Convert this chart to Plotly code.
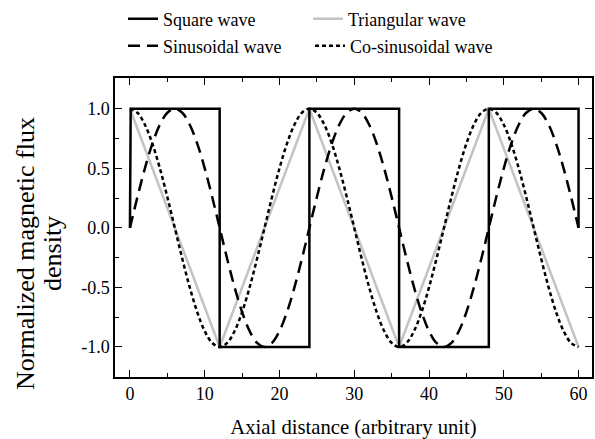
import plotly.graph_objects as go

# ---- data ----
x_unit = list(range(0, 61))

sinusoidal = [
    0, .259, .5, .707, .866, .966, 1, .966, .866, .707, .5, .259,
    0, -.259, -.5, -.707, -.866, -.966, -1, -.966, -.866, -.707, -.5, -.259,
    0, .259, .5, .707, .866, .966, 1, .966, .866, .707, .5, .259,
    0, -.259, -.5, -.707, -.866, -.966, -1, -.966, -.866, -.707, -.5, -.259,
    0, .259, .5, .707, .866, .966, 1, .966, .866, .707, .5, .259, 0,
]
cosinusoidal = [
    1, .966, .866, .707, .5, .259, 0, -.259, -.5, -.707, -.866, -.966,
    -1, -.966, -.866, -.707, -.5, -.259, 0, .259, .5, .707, .866, .966,
    1, .966, .866, .707, .5, .259, 0, -.259, -.5, -.707, -.866, -.966,
    -1, -.966, -.866, -.707, -.5, -.259, 0, .259, .5, .707, .866, .966,
    1, .966, .866, .707, .5, .259, 0, -.259, -.5, -.707, -.866, -.966, -1,
]
tri_x = [0, 12, 24, 36, 48, 60]
tri_y = [1, -1, 1, -1, 1, -1]
sq_x = [0, 0.1, 12, 12, 24, 24, 36, 36, 48, 48, 60, 60]
sq_y = [0, 1, 1, -1, -1, 1, 1, -1, -1, 1, 1, 0]

x_ticks = [0, 10, 20, 30, 40, 50, 60]
y_ticks = [-1.0, -0.5, 0.0, 0.5, 1.0]
y_tick_labels = ["-1.0", "-0.5", "0.0", "0.5", "1.0"]
y_title_lines = ["Normalized magnetic flux", "density"]

FONT = "Liberation Serif, Times New Roman, serif"

fig = go.Figure()
fig.add_trace(go.Scatter(x=tri_x, y=tri_y, mode="lines", name="Triangular wave",
                         line=dict(color="#c3c3c3", width=2.5), legend="legend2"))
fig.add_trace(go.Scatter(x=x_unit, y=sinusoidal, mode="lines", name="Sinusoidal wave",
                         line=dict(color="black", width=2.5, dash="12px,7px", shape="spline"),
                         legend="legend3"))
fig.add_trace(go.Scatter(x=x_unit, y=cosinusoidal, mode="lines", name="Co-sinusoidal wave",
                         line=dict(color="black", width=2.5, dash="4px,3px", shape="spline"),
                         legend="legend4"))
fig.add_trace(go.Scatter(x=sq_x, y=sq_y, mode="lines", name="Square wave",
                         line=dict(color="black", width=2.5), legend="legend"))

def leg(x_px, y_px):
    return dict(orientation="v", xref="container", yref="container", xanchor="left",
                yanchor="middle", x=x_px / 595, y=1 - y_px / 439,
                font=dict(family=FONT, size=18, color="black"),
                bgcolor="rgba(0,0,0,0)", borderwidth=0)

PLOT_L, PLOT_W, PLOT_B, PLOT_H = 115, 477, 377, 299

annots = []
for line_text, cx in zip(y_title_lines, [25, 52]):
    annots.append(dict(text=line_text, textangle=-90,
                       xref="paper", yref="paper", x=(cx - PLOT_L) / PLOT_W,
                       y=(PLOT_B - 254) / PLOT_H, xanchor="center", yanchor="middle",
                       showarrow=False, font=dict(size=26, family=FONT, color="black")))

fig.update_layout(
    width=595, height=439,
    margin=dict(l=115, r=3, t=78, b=62, autoexpand=False),
    paper_bgcolor="white", plot_bgcolor="white",
    font=dict(family=FONT, color="black"),
    showlegend=True,
    legend=leg(123, 19),
    legend2=leg(308, 19),
    legend3=leg(123, 46),
    legend4=leg(310, 46),
    xaxis=dict(range=[-2, 61.8], tickvals=x_ticks, ticks="inside", ticklen=7, tickwidth=1,
               tickcolor="black", showline=True, linecolor="black", linewidth=1.5, mirror="ticks",
               showgrid=False, zeroline=False, automargin=True,
               tickfont=dict(size=18, family=FONT),
               minor=dict(dtick=5, tick0=0, ticks="inside", ticklen=4, tickcolor="black"),
               title=dict(text="Axial distance (arbitrary unit)", font=dict(size=20.7, family=FONT),
                          standoff=16)),
    yaxis=dict(range=[-1.252, 1.258], tickvals=y_ticks, ticktext=y_tick_labels, ticks="inside",
               ticklen=7, tickwidth=1, tickcolor="black", showline=True, linecolor="black",
               linewidth=1.5, mirror="ticks", showgrid=False, zeroline=False, automargin=False,
               tickfont=dict(size=18, family=FONT),
               minor=dict(dtick=0.25, tick0=0, ticks="inside", ticklen=4, tickcolor="black")),
    annotations=annots,
)

fig.write_html("out.html", post_script="document.body.style.margin='0';",
               config={"displayModeBar": False})
